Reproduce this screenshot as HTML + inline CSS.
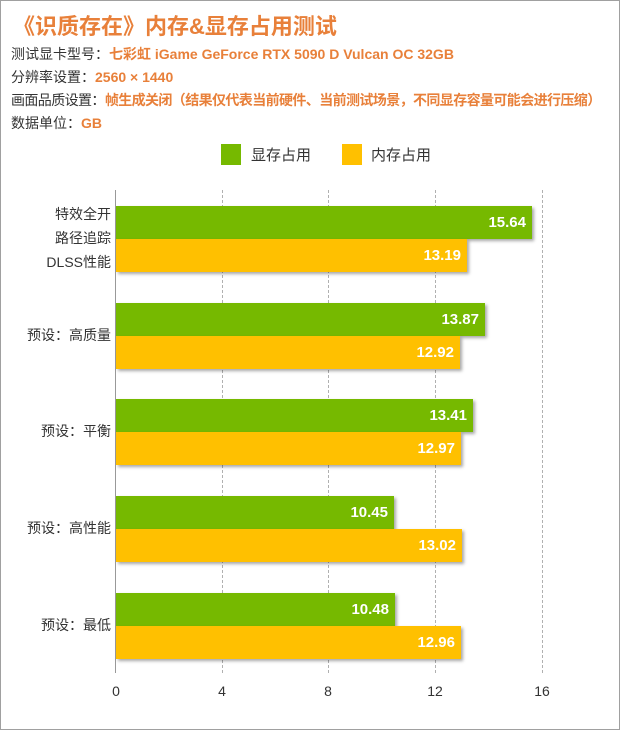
<!DOCTYPE html>
<html><head><meta charset="utf-8"><style>
body{margin:0;background:#fff;}
.w{position:relative;width:618px;height:728px;border:1px solid #a0a0a0;font-family:"Liberation Sans","Noto Sans CJK SC",sans-serif;overflow:hidden;}
.t{position:absolute;left:12px;top:8px;font-size:22px;font-weight:bold;color:#e8803a;white-space:nowrap;}
.l{position:absolute;left:10px;font-size:14px;color:#333;white-space:nowrap;}
.l b{color:#e8803a;}
.g{position:absolute;top:189px;height:483px;border-left:1px dashed #b0b0b0;}
.bar{position:absolute;left:115px;height:33px;box-shadow:2px 2px 3px rgba(0,0,0,.35);color:#fff;font-weight:bold;font-size:15px;line-height:33px;text-align:right;box-sizing:border-box;padding-right:6px;}
.gr{background:#76b900}.ye{background:#ffc000}
.c{position:absolute;font-size:14px;color:#333;text-align:right;line-height:24px;}
.x{position:absolute;top:682px;font-size:14px;color:#333;width:30px;margin-left:-15px;text-align:center;}
</style></head><body><div class="w">
<div class="t">《识质存在》内存&amp;显存占用测试</div>
<div class="l" style="top:43px">测试显卡型号：<b>七彩虹 iGame GeForce RTX 5090 D Vulcan OC 32GB</b></div>
<div class="l" style="top:66px">分辨率设置：<b>2560 × 1440</b></div>
<div class="l" style="top:89px;letter-spacing:-0.6px">画面品质设置：<b>帧生成关闭（结果仅代表当前硬件、当前测试场景，不同显存容量可能会进行压缩）</b></div>
<div class="l" style="top:112px">数据单位：<b>GB</b></div>
<div style="position:absolute;left:220px;top:143px;width:20px;height:21px;background:#76b900"></div>
<div style="position:absolute;left:250px;top:143px;font-size:15px;color:#333">显存占用</div>
<div style="position:absolute;left:341px;top:143px;width:20px;height:21px;background:#ffc000"></div>
<div style="position:absolute;left:370px;top:143px;font-size:15px;color:#333">内存占用</div>
<div class="g" style="left:221px"></div><div class="g" style="left:327px"></div><div class="g" style="left:434px"></div><div class="g" style="left:541px"></div>
<div style="position:absolute;left:114px;top:189px;height:483px;border-left:1px solid #999"></div>
<div class="bar gr" style="top:205px;width:416px">15.64</div>
<div class="bar ye" style="top:238px;width:351px">13.19</div>
<div class="bar gr" style="top:302px;width:369px">13.87</div>
<div class="bar ye" style="top:335px;width:344px">12.92</div>
<div class="bar gr" style="top:398px;width:357px">13.41</div>
<div class="bar ye" style="top:431px;width:345px">12.97</div>
<div class="bar gr" style="top:495px;width:278px">10.45</div>
<div class="bar ye" style="top:528px;width:346px">13.02</div>
<div class="bar gr" style="top:592px;width:279px">10.48</div>
<div class="bar ye" style="top:625px;width:345px">12.96</div>
<div class="c" style="top:201px;right:508px">特效全开<br>路径追踪<br>DLSS性能</div>
<div class="c" style="top:322px;right:508px">预设：高质量</div>
<div class="c" style="top:418px;right:508px">预设：平衡</div>
<div class="c" style="top:515px;right:508px">预设：高性能</div>
<div class="c" style="top:612px;right:508px">预设：最低</div>
<div class="x" style="left:115px">0</div><div class="x" style="left:221px">4</div><div class="x" style="left:327px">8</div><div class="x" style="left:434px">12</div><div class="x" style="left:541px">16</div>
</div></body></html>
